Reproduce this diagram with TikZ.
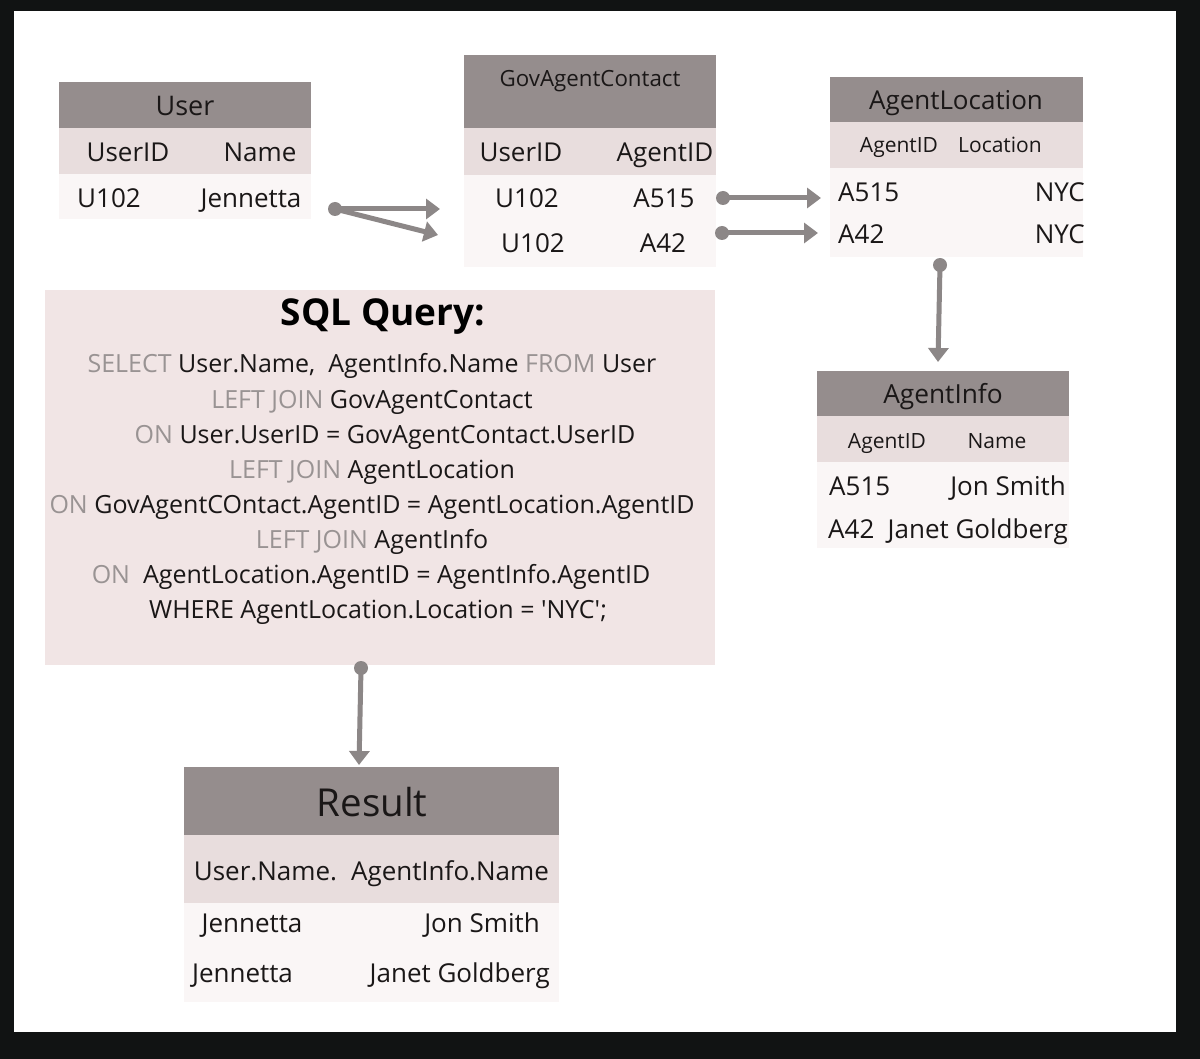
\documentclass[tikz,border=0pt]{standalone}
\usepackage{fontspec}
\setmainfont{Open Sans}
\usetikzlibrary{arrows.meta}
\definecolor{bgblack}{HTML}{111313}
\definecolor{hdrgray}{HTML}{958D8D}
\definecolor{subpink}{HTML}{E8DDDD}
\definecolor{rowpink}{HTML}{FAF6F6}
\definecolor{sqlpink}{HTML}{F1E5E5}
\definecolor{arrgray}{HTML}{8C8787}
\definecolor{kwgray}{HTML}{999393}
\definecolor{txtblack}{HTML}{1A1717}
\tikzset{
  cell/.style={anchor=north west, inner sep=0pt, outer sep=0pt, draw=none},
  hdr/.style={cell, fill=hdrgray},
  sub/.style={cell, fill=subpink},
  rows/.style={cell, fill=rowpink},
  tx/.style={anchor=base, inner sep=0pt, text=txtblack, font=\fontsize{26}{30}\selectfont},
  txs/.style={anchor=base, inner sep=0pt, text=txtblack, font=\fontsize{21}{25}\selectfont},
  sqltx/.style={anchor=base, inner sep=0pt, text=txtblack, font=\fontsize{25}{29}\selectfont},
  conn/.style={draw=arrgray, line width=5pt, -{Triangle[length=14pt,width=20pt]}},
  dot/.style={fill=arrgray}
}
\newcommand{\kw}[1]{\textcolor{kwgray}{#1}}
\newcommand{\sq}{{\addfontfeature{Ligatures=TeXOff}'}}
\begin{document}
\begin{tikzpicture}[x=1pt,y=-1pt]
\useasboundingbox (0,0) rectangle (1200,1059);
\fill[bgblack] (0,0) rectangle (1200,1059);
\fill[white] (14,11) rectangle (1176,1032);

% ---------- User ----------
\node[hdr, minimum width=252pt, minimum height=46pt] (userH) at (59,82) {};
\node[sub, minimum width=252pt, minimum height=46pt] (userS) at (59,128) {};
\node[rows, minimum width=252pt, minimum height=45pt] (userR) at (59,174) {};
\node[tx, font=\fontsize{27}{30}\selectfont] (userT) at (185,116) {User};
\node[tx] (userC1) at (128,162) {UserID};
\node[tx] (userC2) at (260,162) {Name};
\node[tx] (userD1) at (109,208) {U102};
\node[tx] (userD2) at (251,208) {Jennetta};

% ---------- GovAgentContact ----------
\node[hdr, minimum width=252pt, minimum height=73pt] (gacH) at (464,55) {};
\node[sub, minimum width=252pt, minimum height=47pt] (gacS) at (464,128) {};
\node[rows, minimum width=252pt, minimum height=92pt] (gacR) at (464,175) {};
\node[tx, font=\fontsize{22.3}{26}\selectfont] (gacT) at (590,87) {GovAgentContact};
\node[tx] (gacC1) at (521,162) {UserID};
\node[tx] (gacC2) at (665,162) {AgentID};
\node[tx] (gacD11) at (527,208) {U102};
\node[tx] (gacD12) at (664,208) {A515};
\node[tx] (gacD21) at (533,253) {U102};
\node[tx] (gacD22) at (663,253) {A42};

% ---------- AgentLocation ----------
\node[hdr, minimum width=253pt, minimum height=45pt] (alH) at (830,77) {};
\node[sub, minimum width=253pt, minimum height=46pt] (alS) at (830,122) {};
\node[rows, minimum width=253pt, minimum height=89pt] (alR) at (830,168) {};
\node[tx, font=\fontsize{26}{30}\selectfont] (alT) at (956,110) {AgentLocation};
\node[txs] (alC1) at (899,153) {AgentID};
\node[txs] (alC2) at (1000,153) {Location};
\node[tx, anchor=base west] (alD11) at (838,202) {A515};
\node[tx, anchor=base east] (alD12) at (1085,202) {NYC};
\node[tx, anchor=base west] (alD21) at (838,244) {A42};
\node[tx, anchor=base east] (alD22) at (1085,244) {NYC};

% ---------- AgentInfo ----------
\node[hdr, minimum width=252pt, minimum height=45pt] (aiH) at (817,371) {};
\node[sub, minimum width=252pt, minimum height=46pt] (aiS) at (817,416) {};
\node[rows, minimum width=252pt, minimum height=86pt] (aiR) at (817,462) {};
\node[tx, font=\fontsize{26.3}{30}\selectfont] (aiT) at (943,403) {AgentInfo};
\node[txs] (aiC1) at (887,448) {AgentID};
\node[txs] (aiC2) at (997,448) {Name};
\node[tx, anchor=base west] (aiD11) at (829,495) {A515};
\node[tx, anchor=base east] (aiD12) at (1066,495) {Jon Smith};
\node[tx, anchor=base west] (aiD21) at (828,538) {A42};
\node[tx, anchor=base east] (aiD22) at (1068,538) {Janet Goldberg};

% ---------- SQL query ----------
\node[cell, fill=sqlpink, minimum width=670pt, minimum height=375pt] (sqlBox) at (45,290) {};
\node[anchor=base, inner sep=0pt, text=black, font=\fontsize{37}{40}\selectfont\bfseries] (sqlT) at (383,326) {SQL Query:};
\node[sqltx] (q1) at (372,373) {\kw{SELECT} User.Name,\ \ AgentInfo.Name \kw{FROM} User};
\node[sqltx] (q2) at (372,408) {\kw{LEFT JOIN} GovAgentContact};
\node[sqltx] (q3) at (385,443) {\kw{ON} User.UserID = GovAgentContact.UserID};
\node[sqltx] (q4) at (372,478) {\kw{LEFT JOIN} AgentLocation};
\node[sqltx] (q5) at (372,513) {\kw{ON} GovAgentCOntact.AgentID = AgentLocation.AgentID};
\node[sqltx] (q6) at (372,548) {\kw{LEFT JOIN} AgentInfo};
\node[sqltx] (q7) at (371,583) {\kw{ON}\ \ AgentLocation.AgentID = AgentInfo.AgentID};
\node[sqltx] (q8) at (378,618) {WHERE AgentLocation.Location = \sq NYC\sq;};

% ---------- Result ----------
\node[hdr, minimum width=375pt, minimum height=68pt] (resH) at (184,767) {};
\node[sub, minimum width=375pt, minimum height=68pt] (resS) at (184,835) {};
\node[rows, minimum width=375pt, minimum height=99pt] (resR) at (184,903) {};
\node[tx, font=\fontsize{38.5}{42}\selectfont] (resT) at (372,816) {Result};
\node[tx] (resC1) at (265.5,880) {User.Name.};
\node[tx] (resC2) at (450,880) {AgentInfo.Name};
\node[tx] (resD11) at (252,932) {Jennetta};
\node[tx, anchor=base east] (resD12) at (540,932) {Jon Smith};
\node[tx] (resD21) at (242.5,982) {Jennetta};
\node[tx, anchor=base east] (resD22) at (550,982) {Janet Goldberg};

% ---------- connectors ----------
\coordinate (uDot) at (335,209);
\coordinate (uTip1) at (440,209);
\coordinate (uTip2) at (438,235);
\coordinate (gDot1) at (723,198);
\coordinate (gTip1) at (821,198);
\coordinate (gDot2) at (722,233);
\coordinate (gTip2) at (818,233);
\coordinate (aDot) at (940,265);
\coordinate (aTip) at (938,362);
\coordinate (sDot) at (361,668);
\coordinate (sTip) at (359,765);

\draw[conn] (uDot) -- (uTip1);
\draw[conn] (uDot) -- (uTip2);
\draw[conn] (gDot1) -- (gTip1);
\draw[conn] (gDot2) -- (gTip2);
\draw[conn] (aDot) -- (aTip);
\draw[conn] (sDot) -- (sTip);
\foreach \d in {uDot,gDot1,gDot2,aDot,sDot} \fill[dot] (\d) circle (7pt);
\end{tikzpicture}
\end{document}
